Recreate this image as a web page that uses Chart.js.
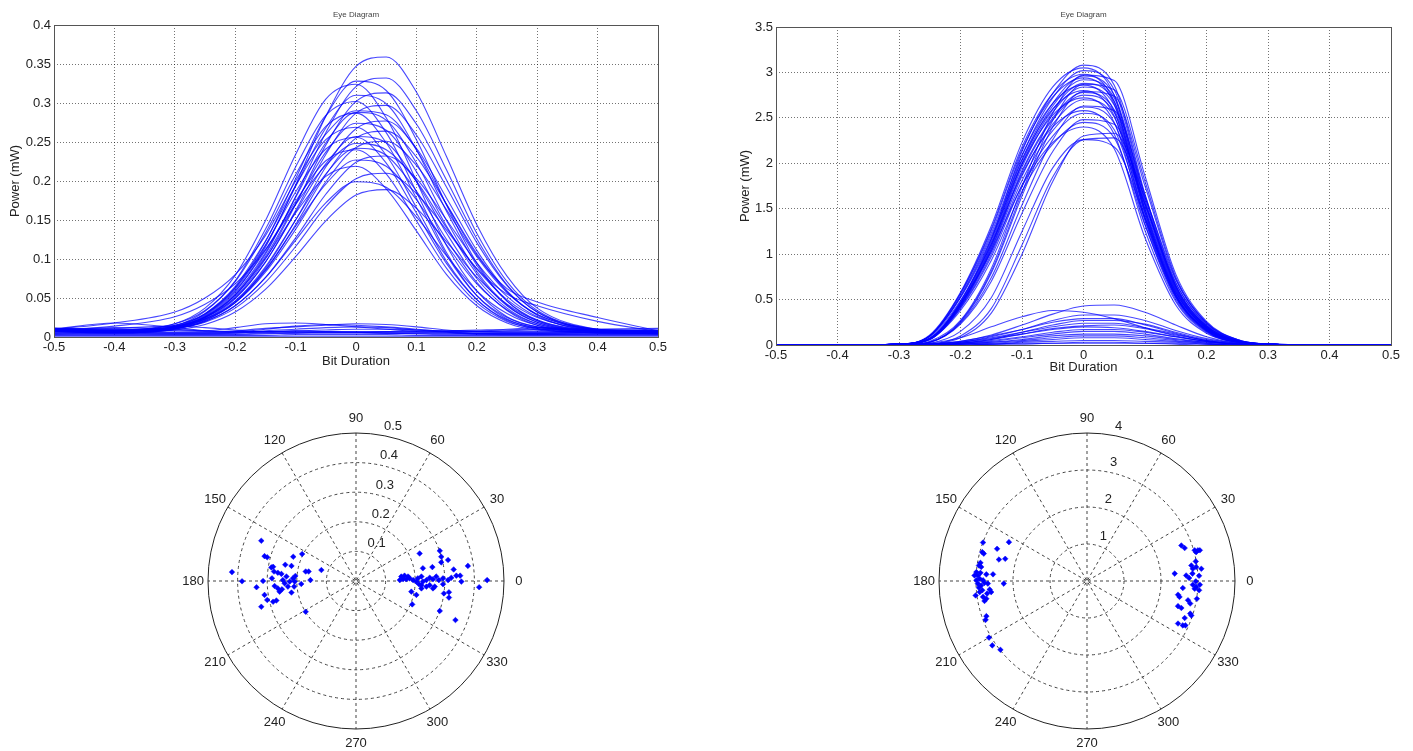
<!DOCTYPE html>
<html>
<head>
<meta charset="utf-8">
<script src="https://cdn.jsdelivr.net/npm/chart.js@4.4.1/dist/chart.umd.min.js"></script>
<style>
  body { margin: 0; background: #fff; width: 1413px; height: 751px; position: relative; overflow: hidden; }
  canvas { position: absolute; }
</style>
</head>
<body>
<canvas id="eyeA" width="680" height="380" style="left:0;top:0"></canvas>
<canvas id="eyeB" width="683" height="380" style="left:730px;top:0"></canvas>
<canvas id="polarA" width="400" height="370" style="left:156px;top:381px"></canvas>
<canvas id="polarB" width="400" height="370" style="left:887px;top:381px"></canvas>
<script>
// sample positions along the bit slot (shared by every trace)
const bitDuration = [-0.5, -0.4, -0.3, -0.25, -0.2, -0.15, -0.1, -0.05, 0, 0.05, 0.1, 0.15, 0.2, 0.25, 0.3, 0.4, 0.5];

// left eye diagram, power in mW
const eyeAOnes = [
  [0.009,0.007,0.013,0.027,0.058,0.115,0.195,0.283,0.347,0.359,0.314,0.231,0.144,0.078,0.037,0.010,0.006],
  [0.008,0.006,0.012,0.025,0.054,0.106,0.180,0.262,0.321,0.332,0.290,0.214,0.133,0.071,0.034,0.009,0.005],
  [0.009,0.007,0.014,0.029,0.063,0.122,0.203,0.283,0.328,0.316,0.253,0.169,0.095,0.046,0.021,0.007,0.006],
  [0.010,0.008,0.017,0.037,0.079,0.149,0.234,0.305,0.324,0.281,0.200,0.117,0.059,0.026,0.013,0.008,0.007],
  [0.008,0.006,0.011,0.024,0.051,0.100,0.170,0.246,0.302,0.313,0.273,0.201,0.126,0.067,0.032,0.008,0.005],
  [0.011,0.009,0.015,0.029,0.061,0.117,0.193,0.268,0.310,0.299,0.240,0.161,0.092,0.046,0.022,0.009,0.008],
  [0.008,0.006,0.014,0.033,0.072,0.138,0.218,0.284,0.302,0.262,0.186,0.108,0.053,0.023,0.011,0.006,0.005],
  [0.010,0.008,0.013,0.025,0.050,0.096,0.162,0.234,0.287,0.297,0.259,0.192,0.121,0.066,0.032,0.010,0.007],
  [0.009,0.007,0.013,0.026,0.056,0.108,0.179,0.249,0.288,0.278,0.223,0.149,0.084,0.041,0.019,0.007,0.006],
  [0.011,0.009,0.017,0.034,0.071,0.133,0.208,0.270,0.287,0.249,0.178,0.105,0.053,0.025,0.013,0.009,0.008],
  [0.007,0.005,0.010,0.021,0.044,0.088,0.150,0.218,0.267,0.277,0.242,0.178,0.111,0.059,0.028,0.007,0.004],
  [0.010,0.008,0.013,0.026,0.054,0.103,0.171,0.237,0.274,0.265,0.212,0.142,0.081,0.040,0.019,0.008,0.007],
  [0.008,0.006,0.013,0.030,0.065,0.123,0.194,0.253,0.269,0.233,0.166,0.097,0.048,0.021,0.010,0.006,0.005],
  [0.009,0.007,0.011,0.022,0.044,0.085,0.144,0.208,0.255,0.264,0.231,0.170,0.107,0.058,0.029,0.009,0.006],
  [0.008,0.006,0.011,0.023,0.049,0.096,0.160,0.222,0.257,0.249,0.199,0.133,0.075,0.037,0.017,0.006,0.005],
  [0.010,0.008,0.015,0.030,0.063,0.118,0.186,0.241,0.256,0.223,0.159,0.094,0.048,0.022,0.012,0.008,0.007],
  [0.011,0.009,0.013,0.023,0.044,0.083,0.138,0.199,0.243,0.251,0.220,0.163,0.103,0.057,0.029,0.010,0.008],
  [0.007,0.005,0.010,0.021,0.046,0.090,0.150,0.209,0.242,0.233,0.187,0.125,0.070,0.034,0.015,0.005,0.004],
  [0.009,0.007,0.013,0.028,0.059,0.111,0.174,0.226,0.240,0.209,0.149,0.088,0.044,0.020,0.011,0.007,0.006],
  [0.009,0.007,0.011,0.020,0.040,0.076,0.127,0.183,0.224,0.232,0.203,0.150,0.095,0.052,0.026,0.008,0.006],
  [0.010,0.008,0.012,0.023,0.046,0.086,0.142,0.196,0.227,0.219,0.176,0.118,0.068,0.035,0.017,0.008,0.007],
  [0.008,0.006,0.012,0.025,0.053,0.101,0.159,0.206,0.219,0.190,0.136,0.080,0.040,0.018,0.009,0.006,0.005],
  [0.010,0.008,0.011,0.019,0.037,0.070,0.116,0.167,0.203,0.210,0.184,0.137,0.087,0.048,0.025,0.009,0.007],
  [0.009,0.007,0.011,0.020,0.040,0.076,0.124,0.172,0.199,0.192,0.154,0.104,0.059,0.030,0.015,0.007,0.006],
  [0.008,0.006,0.009,0.016,0.032,0.061,0.103,0.149,0.182,0.189,0.165,0.122,0.077,0.042,0.021,0.007,0.005],
  [0.010,0.018,0.032,0.050,0.080,0.130,0.200,0.260,0.290,0.285,0.240,0.170,0.105,0.062,0.045,0.025,0.008],
  [0.009,0.014,0.026,0.042,0.068,0.112,0.170,0.220,0.248,0.240,0.200,0.140,0.088,0.055,0.040,0.020,0.007]
];
const eyeAZeros = [
  [0.010,0.018,0.012,0.008,0.006,0.007,0.008,0.007,0.006,0.005,0.005,0.005,0.005,0.005,0.005,0.006,0.007],
  [0.008,0.012,0.010,0.008,0.012,0.017,0.018,0.016,0.013,0.010,0.007,0.006,0.005,0.005,0.005,0.006,0.006],
  [0.006,0.007,0.006,0.006,0.008,0.011,0.013,0.015,0.017,0.016,0.013,0.009,0.007,0.006,0.006,0.006,0.008],
  [0.004,0.005,0.004,0.004,0.005,0.008,0.010,0.012,0.013,0.012,0.009,0.006,0.004,0.003,0.003,0.004,0.004],
  [0.003,0.003,0.003,0.003,0.003,0.004,0.005,0.006,0.006,0.005,0.004,0.003,0.003,0.003,0.003,0.003,0.003],
  [0.007,0.009,0.008,0.007,0.006,0.006,0.008,0.009,0.010,0.010,0.009,0.008,0.008,0.009,0.010,0.009,0.008],
  [0.002,0.002,0.002,0.002,0.002,0.002,0.003,0.003,0.003,0.003,0.002,0.002,0.002,0.002,0.002,0.002,0.002],
  [0.005,0.006,0.005,0.005,0.006,0.010,0.014,0.016,0.015,0.013,0.010,0.007,0.005,0.005,0.005,0.005,0.005],
  [0.009,0.011,0.014,0.012,0.009,0.007,0.006,0.006,0.006,0.007,0.008,0.008,0.009,0.010,0.012,0.010,0.010],
  [0.006,0.006,0.006,0.006,0.007,0.007,0.007,0.007,0.007,0.007,0.007,0.007,0.007,0.007,0.007,0.007,0.007],
  [0.001,0.001,0.001,0.001,0.001,0.001,0.001,0.001,0.001,0.001,0.001,0.001,0.001,0.001,0.001,0.001,0.001],
  [0.004,0.004,0.004,0.004,0.004,0.005,0.005,0.005,0.005,0.005,0.005,0.005,0.004,0.004,0.004,0.004,0.004],
  [0.011,0.010,0.009,0.008,0.007,0.006,0.006,0.006,0.006,0.006,0.006,0.007,0.007,0.008,0.009,0.010,0.011]
];

// right eye diagram, power in mW
const eyeBOnes = [
  [0,0,0.01,0.07,0.48,1.17,2.13,2.77,3.08,2.86,1.66,0.66,0.21,0.05,0.01,0,0],
  [0,0,0.01,0.11,0.58,1.31,2.23,2.84,3.05,2.75,1.49,0.56,0.17,0.04,0.01,0,0],
  [0,0,0.01,0.07,0.47,1.15,2.08,2.72,3.02,2.81,1.63,0.65,0.21,0.05,0.01,0,0],
  [0,0,0,0.04,0.27,0.84,1.74,2.55,2.97,2.91,1.86,0.78,0.26,0.06,0.01,0,0],
  [0,0,0.01,0.10,0.57,1.28,2.18,2.77,2.98,2.68,1.46,0.55,0.16,0.04,0.01,0,0],
  [0,0,0.01,0.07,0.46,1.13,2.04,2.66,2.96,2.75,1.60,0.64,0.20,0.04,0.01,0,0],
  [0,0,0.01,0.10,0.56,1.26,2.15,2.73,2.94,2.65,1.44,0.54,0.16,0.04,0.01,0,0],
  [0,0,0.01,0.07,0.45,1.11,2.01,2.63,2.92,2.72,1.58,0.63,0.20,0.04,0.01,0,0],
  [0,0,0,0.03,0.26,0.81,1.68,2.47,2.87,2.81,1.80,0.75,0.25,0.06,0.01,0,0],
  [0,0,0.01,0.07,0.45,1.09,1.99,2.59,2.88,2.68,1.56,0.62,0.20,0.04,0.01,0,0],
  [0,0,0.01,0.10,0.54,1.23,2.09,2.66,2.86,2.57,1.40,0.53,0.16,0.03,0.01,0,0],
  [0,0,0.01,0.07,0.44,1.08,1.96,2.56,2.84,2.64,1.53,0.61,0.19,0.04,0.01,0,0],
  [0,0,0,0.03,0.25,0.79,1.64,2.40,2.79,2.74,1.75,0.73,0.24,0.06,0.01,0,0],
  [0,0,0.01,0.10,0.53,1.20,2.04,2.60,2.80,2.52,1.37,0.52,0.15,0.03,0.01,0,0],
  [0,0,0.01,0.07,0.43,1.06,1.92,2.50,2.78,2.59,1.50,0.60,0.19,0.04,0.01,0,0],
  [0,0,0.01,0.07,0.43,1.05,1.90,2.48,2.75,2.56,1.49,0.59,0.19,0.04,0.01,0,0],
  [0,0,0.01,0.10,0.52,1.17,1.99,2.53,2.72,2.45,1.33,0.50,0.15,0.03,0.01,0,0],
  [0,0,0.01,0.06,0.42,1.03,1.86,2.43,2.70,2.51,1.46,0.58,0.18,0.04,0.01,0,0],
  [0,0,0,0.03,0.24,0.74,1.54,2.26,2.63,2.58,1.65,0.69,0.23,0.05,0.01,0,0],
  [0,0,0.01,0.06,0.41,1.00,1.81,2.36,2.62,2.44,1.41,0.56,0.18,0.04,0.01,0,0],
  [0,0,0.01,0.09,0.49,1.11,1.88,2.40,2.58,2.32,1.26,0.48,0.14,0.03,0.01,0,0],
  [0,0,0.01,0.06,0.40,0.97,1.76,2.30,2.55,2.37,1.38,0.55,0.17,0.04,0.01,0,0],
  [0,0,0,0.03,0.23,0.70,1.45,2.13,2.48,2.43,1.55,0.65,0.21,0.05,0.01,0,0],
  [0,0,0,0.06,0.38,0.93,1.69,2.21,2.45,2.28,1.32,0.53,0.17,0.04,0,0,0],
  [0,0,0.01,0.08,0.46,1.03,1.75,2.23,2.40,2.16,1.18,0.44,0.13,0.03,0,0,0],
  [0,0,0,0.01,0.10,0.40,1.10,1.85,2.26,2.28,1.55,0.68,0.22,0.05,0.01,0,0],
  [0,0,0,0.02,0.15,0.52,1.25,1.95,2.26,2.18,1.40,0.58,0.18,0.04,0,0,0],
  [0,0,0,0.01,0.08,0.35,1.00,1.80,2.30,2.33,1.62,0.72,0.24,0.05,0.01,0,0]
];
const eyeBZeros = [
  [0,0,0,0.01,0.04,0.11,0.22,0.34,0.43,0.44,0.36,0.22,0.09,0.02,0,0,0],
  [0,0,0,0.02,0.08,0.20,0.31,0.38,0.36,0.29,0.19,0.10,0.04,0.01,0,0,0],
  [0,0,0,0.01,0.03,0.09,0.17,0.27,0.33,0.33,0.27,0.16,0.07,0.02,0,0,0],
  [0,0,0,0.01,0.04,0.10,0.17,0.25,0.29,0.29,0.22,0.13,0.05,0.01,0,0,0],
  [0,0,0,0,0.02,0.06,0.14,0.22,0.27,0.27,0.23,0.14,0.06,0.02,0,0,0],
  [0,0,0,0.01,0.03,0.08,0.14,0.20,0.24,0.24,0.19,0.12,0.05,0.01,0,0,0],
  [0,0,0,0,0.02,0.06,0.12,0.18,0.21,0.22,0.18,0.11,0.05,0.01,0,0,0],
  [0,0,0,0.01,0.03,0.07,0.12,0.17,0.20,0.19,0.15,0.09,0.04,0.01,0,0,0],
  [0,0,0,0,0.02,0.05,0.09,0.14,0.17,0.17,0.14,0.09,0.04,0.01,0,0,0],
  [0,0,0,0,0.02,0.04,0.08,0.12,0.15,0.15,0.12,0.07,0.03,0.01,0,0,0],
  [0,0,0,0,0.01,0.03,0.06,0.10,0.12,0.12,0.10,0.06,0.03,0.01,0,0,0],
  [0,0,0,0,0.01,0.03,0.05,0.08,0.10,0.10,0.08,0.05,0.02,0,0,0,0],
  [0,0,0,0,0.01,0.02,0.04,0.06,0.08,0.08,0.06,0.04,0.02,0,0,0,0],
  [0,0,0,0,0.01,0.01,0.03,0.04,0.05,0.05,0.04,0.03,0.01,0,0,0,0],
  [0,0,0,0,0,0.01,0.02,0.02,0.03,0.03,0.02,0.02,0.01,0,0,0,0],
  [0,0,0,0,0,0.01,0.01,0.02,0.02,0.02,0.02,0.01,0,0,0,0,0]
];

// sampled constellation points (real / imaginary part of the field)
const polarARe = [-0.320,-0.419,-0.385,-0.309,-0.300,-0.212,-0.182,-0.239,-0.218,-0.280,-0.277,-0.264,-0.252,-0.170,-0.160,-0.117,-0.314,-0.336,-0.284,-0.275,-0.264,-0.247,-0.241,-0.230,-0.224,-0.213,-0.207,-0.235,-0.218,-0.185,-0.154,-0.309,-0.300,-0.280,-0.269,-0.320,-0.170,-0.258,-0.250,-0.209,-0.286,-0.205,
  0.215,0.283,0.288,0.311,0.288,0.226,0.258,0.330,0.378,0.153,0.164,0.176,0.159,0.170,0.148,0.181,0.209,0.221,0.204,0.193,0.238,0.249,0.260,0.226,0.271,0.280,0.294,0.311,0.322,0.339,0.352,0.356,0.187,0.204,0.221,0.238,0.249,0.260,0.266,0.294,0.297,0.314,0.314,0.416,0.443,0.190,0.283,0.336,0.213,0.221];
const polarAIm = [0.136,0.030,-0.001,0.084,0.080,0.082,0.091,0.055,0.051,0.048,0.032,0.028,0.024,0.032,0.032,0.037,0.000,-0.021,0.009,-0.017,-0.025,0.003,-0.008,-0.019,-0.002,0.009,-0.002,0.015,-0.039,-0.010,0.003,-0.047,-0.064,-0.070,-0.066,-0.087,-0.104,-0.036,-0.028,-0.019,0.046,0.017,
  0.093,0.102,0.082,0.071,0.063,0.043,0.047,0.039,0.051,0.015,0.018,0.015,0.006,0.006,0.003,0.009,0.009,0.015,-0.002,0.003,0.003,0.011,0.006,-0.002,0.015,0.003,0.009,0.003,0.011,0.018,0.018,-0.002,-0.036,-0.047,-0.014,-0.019,-0.014,-0.025,-0.019,-0.011,-0.042,-0.038,-0.056,-0.021,0.003,-0.079,-0.101,-0.132,-0.011,-0.025];

const polarBRe = [-2.81,-2.11,-2.43,-2.83,-2.79,-2.38,-2.21,-2.88,-2.92,-2.86,-3.04,-2.99,-2.95,-2.88,-2.72,-2.54,-2.99,-2.90,-2.81,-2.95,-2.86,-2.77,-2.68,-2.25,-3.01,-2.90,-2.81,-2.72,-2.63,-2.59,-2.70,-2.77,-2.92,-2.83,-2.72,-2.74,-2.65,-2.56,-2.34,
  2.55,2.64,2.91,3.00,2.95,3.05,2.94,2.82,2.86,2.95,3.09,2.85,2.37,2.68,2.76,3.03,2.94,2.86,2.95,3.05,2.91,2.59,3.03,2.46,2.50,2.73,2.97,2.46,2.55,2.79,2.82,2.79,2.64,2.46,2.59,2.66];
const polarBIm = [1.04,1.05,0.87,0.78,0.74,0.58,0.60,0.49,0.42,0.38,0.15,0.24,0.15,0.22,0.18,0.18,0.02,0.06,0.02,-0.07,-0.12,-0.05,-0.07,-0.07,-0.39,-0.30,-0.43,-0.48,-0.23,-0.30,-0.34,-0.54,-0.18,-0.25,-0.95,-1.05,-1.53,-1.74,-1.86,
  0.96,0.89,0.83,0.83,0.78,0.83,0.53,0.42,0.33,0.38,0.33,0.20,0.20,0.15,0.08,0.14,-0.01,-0.10,-0.16,-0.10,-0.21,-0.19,-0.25,-0.37,-0.43,-0.52,-0.48,-0.68,-0.73,-0.61,-0.93,-0.88,-1.00,-1.15,-1.20,-1.20];

// polar axes
const angleTicks = [0, 30, 60, 90, 120, 150, 180, 210, 240, 270, 300, 330];
const spokeAngles = [0, 30, 60, 90, 120, 150];
const ringsA = [0.1, 0.2, 0.3, 0.4, 0.5];
const ringLabelsA = ['0.1', '0.2', '0.3', '0.4', '0.5'];
const ringsB = [1, 2, 3, 4];
const ringLabelsB = ['1', '2', '3', '4'];

const FONT = '"Liberation Sans", Arial, sans-serif';
const TEXT = '#222';
const TRACE = 'rgba(0,0,255,0.72)';

// box around the plot area and the small title above it
const frame = {
  id: 'frame',
  afterDraw(chart, args, opts) {
    const { ctx, chartArea: a } = chart;
    ctx.save();
    ctx.strokeStyle = '#555';
    ctx.lineWidth = 1;
    ctx.strokeRect(Math.round(a.left) + 0.5, Math.round(a.top) + 0.5, Math.round(a.width), Math.round(a.height));
    ctx.fillStyle = '#444';
    ctx.font = '8px ' + FONT;
    ctx.textAlign = 'center';
    ctx.textBaseline = 'middle';
    ctx.fillText(opts.title, (a.left + a.right) / 2, 15);
    ctx.restore();
  }
};

// circles, spokes and labels of a matlab-like polar plot
const polarGrid = {
  id: 'polarGrid',
  beforeDatasetsDraw(chart, args, o) {
    const { ctx, scales: { x, y } } = chart;
    const pt = (r, deg) => {
      const t = deg * Math.PI / 180;
      return [x.getPixelForValue(r * Math.cos(t)), y.getPixelForValue(r * Math.sin(t))];
    };
    const [cx, cy] = pt(0, 0);
    ctx.save();
    ctx.lineWidth = 1;
    ctx.strokeStyle = '#444';
    ctx.setLineDash([3, 3]);
    o.rings.forEach(r => {
      if (r >= o.rmax) return;
      ctx.beginPath();
      ctx.arc(cx, cy, x.getPixelForValue(r) - cx, 0, Math.PI * 2);
      ctx.stroke();
    });
    spokeAngles.forEach(a => {
      const [x1, y1] = pt(o.rmax, a);
      const [x2, y2] = pt(o.rmax, a + 180);
      ctx.beginPath();
      ctx.moveTo(x1, y1);
      ctx.lineTo(x2, y2);
      ctx.stroke();
    });
    ctx.setLineDash([]);
    ctx.strokeStyle = '#222';
    ctx.beginPath();
    ctx.arc(cx, cy, x.getPixelForValue(o.rmax) - cx, 0, Math.PI * 2);
    ctx.stroke();

    ctx.fillStyle = TEXT;
    ctx.font = '13px ' + FONT;
    ctx.textAlign = 'center';
    ctx.textBaseline = 'middle';
    angleTicks.forEach(a => {
      const [lx, ly] = pt(o.rmax * 1.1, a);
      ctx.fillText(String(a), lx, ly);
    });
    ctx.textAlign = 'left';
    ctx.textBaseline = 'bottom';
    const gap = ctx.measureText('  ').width;
    o.rings.forEach((r, i) => {
      const [lx, ly] = pt(r + o.rinc / 20, 82);
      ctx.fillText(o.labels[i], lx + gap, ly);
    });
    ctx.restore();
  }
};

function traceSets(ones, zeros) {
  return ones.concat(zeros).map(tr => ({
    data: tr.map((v, i) => ({ x: bitDuration[i], y: v })),
    showLine: true,
    borderColor: TRACE,
    borderWidth: 1.1,
    pointRadius: 0,
    cubicInterpolationMode: 'monotone'
  }));
}

function makeEye(id, ones, zeros, cfg) {
  const font = { family: FONT, size: 13 };
  new Chart(document.getElementById(id), {
    type: 'scatter',
    data: { datasets: traceSets(ones, zeros) },
    plugins: [frame],
    options: {
      responsive: false,
      animation: false,
      events: [],
      layout: { padding: cfg.pad },
      plugins: {
        legend: { display: false },
        tooltip: { enabled: false },
        frame: { title: 'Eye Diagram' }
      },
      scales: {
        x: {
          type: 'linear',
          min: -0.5,
          max: 0.5,
          ticks: {
            stepSize: 0.1, autoSkip: false, maxRotation: 0, padding: cfg.xTickPad,
            color: TEXT, font, callback: v => String(+v.toFixed(1))
          },
          grid: { color: 'rgba(0,0,0,0.55)', drawTicks: false },
          border: { display: false, dash: [1, 2] },
          title: { display: true, text: 'Bit Duration', color: TEXT, font, padding: { top: 0, bottom: cfg.xTitlePad } },
          afterFit: s => { s.height = cfg.xH; }
        },
        y: {
          type: 'linear',
          min: 0,
          max: cfg.yMax,
          ticks: {
            stepSize: cfg.yStep, autoSkip: false, padding: 3,
            color: TEXT, font, callback: v => String(+v.toFixed(2))
          },
          grid: { color: 'rgba(0,0,0,0.55)', drawTicks: false },
          border: { display: false, dash: [1, 2] },
          title: { display: true, text: 'Power (mW)', color: TEXT, font, padding: { top: 8, bottom: 0 } },
          afterFit: s => { s.width = cfg.yW; }
        }
      }
    }
  });
}

function makePolar(id, re, im, rmax, rinc, rings, labels) {
  new Chart(document.getElementById(id), {
    type: 'scatter',
    data: {
      datasets: [{
        data: re.map((v, i) => ({ x: v, y: im[i] })),
        pointStyle: 'rectRot',
        pointRadius: 2.8,
        backgroundColor: '#0000ff',
        borderColor: '#0000ff',
        borderWidth: 0.5
      }]
    },
    plugins: [polarGrid],
    options: {
      responsive: false,
      animation: false,
      events: [],
      layout: { padding: { left: 52, right: 52, top: 52, bottom: 22 } },
      plugins: {
        legend: { display: false },
        tooltip: { enabled: false },
        polarGrid: { rmax, rinc, rings, labels }
      },
      scales: {
        x: { type: 'linear', min: -rmax, max: rmax, display: false },
        y: { type: 'linear', min: -rmax, max: rmax, display: false }
      }
    }
  });
}

makeEye('eyeA', eyeAOnes, eyeAZeros, {
  yMax: 0.4, yStep: 0.05, yW: 54, xH: 43, xTickPad: 3, xTitlePad: 11,
  pad: { top: 25, right: 22, left: 0, bottom: 0 }
});
makeEye('eyeB', eyeBOnes, eyeBZeros, {
  yMax: 3.5, yStep: 0.5, yW: 46, xH: 35, xTickPad: 3, xTitlePad: 5,
  pad: { top: 27, right: 22, left: 0, bottom: 0 }
});
makePolar('polarA', polarARe, polarAIm, 0.5, 0.1, ringsA, ringLabelsA);
makePolar('polarB', polarBRe, polarBIm, 4, 1, ringsB, ringLabelsB);
</script>
</body>
</html>
